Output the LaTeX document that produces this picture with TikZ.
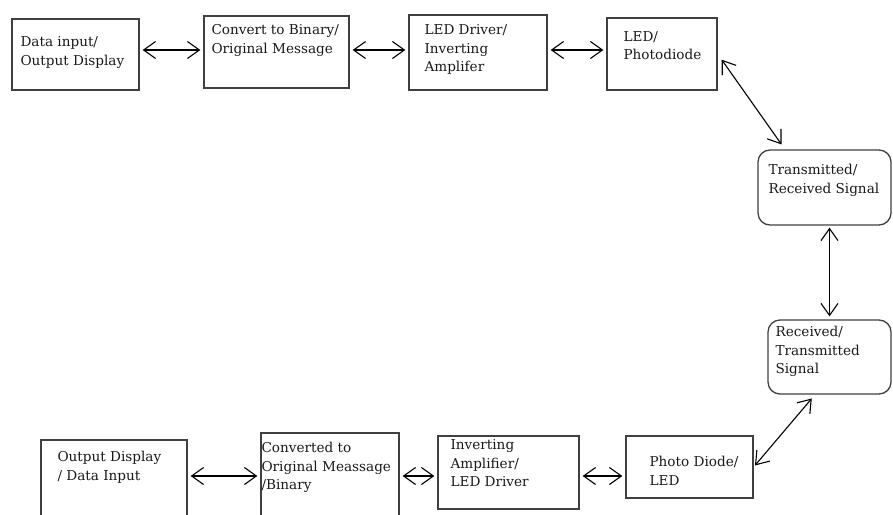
\documentclass[tikz,border=0pt]{standalone}
\usepackage{fontspec}
\setmainfont{DejaVu Serif}
\usetikzlibrary{arrows.meta}

\tikzset{
  box/.style={draw=black!75, line width=1.3pt, inner sep=0pt},
  sig/.style={box, rounded corners=12pt},
  txt/.style={font=\fontsize{13.6}{18.5}\selectfont, text=black!90, align=left, inner sep=0pt, anchor=north west},
  link/.style={{Straight Barb[length=12pt,width=17pt]}-{Straight Barb[length=12pt,width=17pt]}, line width=1.1pt, shorten <=3pt, shorten >=3pt}
}

\begin{document}
\begin{tikzpicture}[x=1pt,y=-1pt]
 \useasboundingbox (0,0) rectangle (893,514);
 \clip (0,0) rectangle (893,514);
 % transmit side
 \node[box, minimum width=127pt, minimum height=71pt, label={[txt,xshift=9pt,yshift=-18pt]north west:{Data input/\\Output Display}}] (datain) at (75.5,54.5) {};
 \node[box, minimum width=145pt, minimum height=72pt, label={[txt,xshift=8pt,yshift=-9pt]north west:{Convert to Binary/\\Original Message}}] (binconv) at (276.5,52) {};
 \node[box, minimum width=138pt, minimum height=75pt, label={[txt,xshift=16pt,yshift=-10pt]north west:{LED Driver/\\Inverting\\Amplifer}}] (leddrv) at (478,52.5) {};
 \node[box, minimum width=110pt, minimum height=72pt, label={[txt,xshift=17pt,yshift=-14pt]north west:{LED/\\Photodiode}}] (ledpd) at (662,54) {};
 % channel
 \node[sig, minimum width=133pt, minimum height=75pt, label={[txt,xshift=11pt,yshift=-15pt]north west:{Transmitted/\\Received Signal}}] (txsig) at (824.5,187.5) {};
 \node[sig, minimum width=123pt, minimum height=74pt, label={[txt,xshift=8pt,yshift=-7pt]north west:{Received/\\Transmitted\\Signal}}] (rxsig) at (829.5,357) {};
 % receive side
 \node[box, minimum width=146pt, minimum height=85pt, label={[txt,xshift=17pt,yshift=-12pt]north west:{Output Display\\/ Data Input}}] (outdisp) at (114,482.5) {};
 \node[box, minimum width=138pt, minimum height=92pt, label={[txt,xshift=1pt,yshift=-10pt]north west:{Converted to\\Original Meassage\\/Binary}}] (msgconv) at (330,479) {};
 \node[box, minimum width=141pt, minimum height=73pt, label={[txt,xshift=13pt,yshift=-4pt]north west:{Inverting\\Amplifier/\\LED Driver}}] (invamp) at (508.5,472.5) {};
 \node[box, minimum width=127pt, minimum height=62pt, label={[txt,xshift=24pt,yshift=-21pt]north west:{Photo Diode/\\LED}}] (pdled) at (689.5,467) {};

 \coordinate (toprow) at (0,50);
 \coordinate (lowrow) at (0,476);

 \draw[link] (datain.east |- toprow) -- (binconv.west |- toprow);
 \draw[link] (binconv.east |- toprow) -- (leddrv.west |- toprow);
 \draw[link] (leddrv.east |- toprow) -- (ledpd.west |- toprow);
 \draw[link, shorten <=7pt, shorten >=6pt] (ledpd.east) -- ([xshift=-39.5pt]txsig.north);
 \draw[link, shorten <=2pt, shorten >=3pt] (txsig.south -| rxsig.north) -- (rxsig.north);
 \draw[link, shorten <=5pt, shorten >=2pt] ([xshift=-14.5pt]rxsig.south) -- (pdled.east);
 \draw[link] (outdisp.east |- lowrow) -- (msgconv.west |- lowrow);
 \draw[link] (msgconv.east |- lowrow) -- (invamp.west |- lowrow);
 \draw[link] (invamp.east |- lowrow) -- (pdled.west |- lowrow);
\end{tikzpicture}
\end{document}
